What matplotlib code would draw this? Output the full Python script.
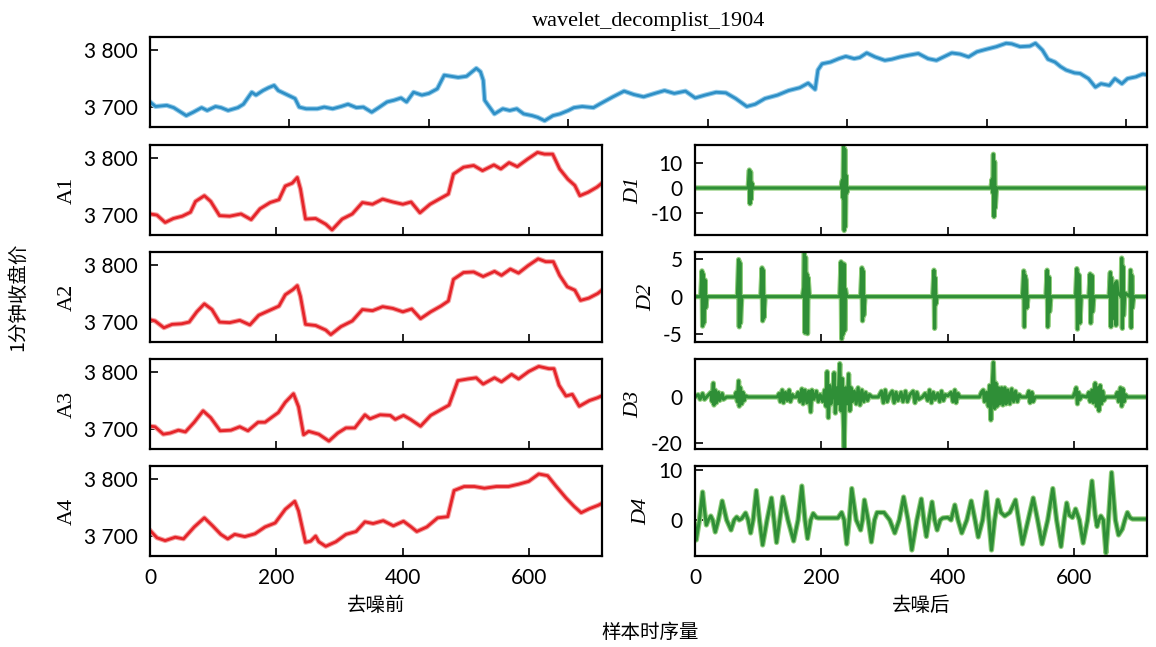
import matplotlib
matplotlib.use("Agg")
import matplotlib.pyplot as plt
from matplotlib.ticker import FuncFormatter, MultipleLocator

plt.rcParams["axes.unicode_minus"] = False

# ---- data ----
title = "wavelet_decomplist_1904"

close_t = [0, 4, 12, 17, 26, 31, 37, 41, 47, 51, 56, 63, 67, 73, 76, 81, 85, 89, 92, 98,
           104, 107, 112, 120, 125, 131, 137, 142, 148, 153, 159, 164, 170, 175, 180, 184,
           189, 195, 200, 206, 211, 216, 221, 227, 234, 237, 239, 240, 242, 247, 253, 258,
           263, 268, 274, 278, 283, 289, 294, 300, 304, 310, 318, 323, 332, 340, 347, 354,
           362, 369, 376, 384, 391, 398, 406, 413, 420, 428, 434, 441, 450, 458, 466, 472,
           477, 479, 482, 488, 494, 499, 505, 509, 514, 520, 527, 532, 538, 544, 551, 558,
           564, 570, 575, 581, 587, 593, 599, 607, 614, 618, 624, 631, 635, 640, 644, 649,
           653, 657, 663, 667, 673, 678, 682, 688, 692, 697, 701, 707, 712, 716]
close_v = [3709, 3701, 3703, 3699, 3685, 3691, 3699, 3694, 3701, 3699, 3694, 3699, 3705,
           3726, 3721, 3729, 3734, 3738, 3729, 3722, 3715, 3700, 3697, 3697, 3700, 3697,
           3701, 3705, 3699, 3700, 3691, 3699, 3709, 3712, 3716, 3709, 3726, 3721, 3724,
           3732, 3756, 3754, 3752, 3754, 3768, 3762, 3747, 3712, 3705, 3688, 3697, 3694,
           3697, 3688, 3685, 3682, 3676, 3685, 3688, 3694, 3699, 3701, 3699, 3706, 3718,
           3728, 3722, 3718, 3724, 3729, 3724, 3728, 3716, 3721, 3726, 3725, 3715, 3701,
           3705, 3715, 3721, 3729, 3734, 3742, 3731, 3765, 3776, 3779, 3785, 3789, 3785,
           3787, 3795, 3788, 3782, 3784, 3788, 3791, 3794, 3785, 3782, 3789, 3795, 3793,
           3788, 3797, 3801, 3806, 3812, 3811, 3806, 3807, 3812, 3800, 3784, 3779, 3771,
           3765, 3760, 3759, 3750, 3735, 3741, 3738, 3750, 3741, 3750, 3753, 3758, 3756]

a1_t = [0, 11, 24, 37, 51, 64, 72, 86, 96, 110, 126, 144, 160, 174, 190, 204, 214, 225,
        233, 238, 246, 262, 278, 288, 304, 320, 336, 352, 368, 384, 400, 413, 427, 443,
        459, 472, 480, 496, 512, 526, 544, 555, 568, 581, 597, 613, 624, 637, 648, 661,
        672, 680, 693, 707, 716]
a1_v = [3702, 3700, 3687, 3694, 3698, 3705, 3724, 3734, 3724, 3699, 3698, 3702, 3692,
        3711, 3722, 3727, 3751, 3756, 3766, 3746, 3693, 3694, 3684, 3674, 3693, 3702,
        3722, 3719, 3728, 3723, 3719, 3723, 3704, 3719, 3729, 3737, 3772, 3784, 3787,
        3778, 3788, 3781, 3792, 3785, 3798, 3810, 3807, 3807, 3781, 3763, 3752, 3734,
        3740, 3749, 3757]

a2_t = [0, 8, 22, 35, 50, 62, 74, 86, 98, 110, 126, 142, 158, 172, 188, 204, 214, 226,
        233, 238, 246, 262, 278, 286, 302, 320, 336, 352, 368, 384, 400, 414, 428, 444,
        460, 472, 480, 496, 512, 527, 545, 556, 570, 583, 598, 614, 626, 638, 648, 660,
        672, 681, 694, 708, 716]
a2_v = [3704, 3702, 3690, 3696, 3697, 3700, 3718, 3732, 3722, 3700, 3699, 3703, 3695,
        3712, 3720, 3728, 3748, 3757, 3764, 3745, 3696, 3694, 3686, 3678, 3692, 3702,
        3722, 3720, 3727, 3724, 3718, 3723, 3706, 3718, 3728, 3737, 3775, 3787, 3788,
        3780, 3789, 3782, 3793, 3786, 3799, 3811, 3806, 3806, 3782, 3762, 3756, 3738,
        3742, 3750, 3757]

a3_t = [0, 8, 21, 32, 45, 56, 70, 84, 96, 111, 128, 142, 155, 171, 182, 193, 203, 214,
        227, 235, 243, 251, 267, 283, 297, 310, 324, 340, 348, 364, 380, 388, 401, 412,
        428, 444, 460, 473, 487, 503, 516, 527, 545, 556, 572, 583, 599, 615, 631, 639,
        647, 658, 668, 679, 695, 708, 716]
a3_v = [3705, 3704, 3691, 3693, 3698, 3695, 3712, 3732, 3720, 3697, 3698, 3704, 3697,
        3712, 3712, 3721, 3729, 3747, 3762, 3739, 3690, 3696, 3691, 3679, 3693, 3702,
        3702, 3725, 3718, 3725, 3724, 3717, 3724, 3717, 3705, 3724, 3734, 3742, 3785,
        3788, 3790, 3779, 3790, 3783, 3796, 3788, 3801, 3810, 3806, 3806, 3777, 3758,
        3761, 3740, 3750, 3755, 3759]

a4_t = [0, 11, 24, 40, 53, 70, 86, 99, 112, 123, 134, 150, 166, 182, 198, 214, 229, 235,
        246, 254, 262, 267, 278, 294, 310, 326, 340, 353, 369, 385, 401, 412, 422, 438,
        455, 471, 481, 497, 513, 529, 548, 567, 583, 599, 615, 629, 642, 658, 671, 682,
        695, 709, 716]
a4_v = [3710, 3697, 3692, 3698, 3695, 3716, 3732, 3718, 3703, 3695, 3703, 3699, 3704,
        3716, 3723, 3747, 3761, 3744, 3689, 3691, 3700, 3690, 3682, 3690, 3703, 3708,
        3725, 3722, 3727, 3718, 3726, 3717, 3708, 3716, 3732, 3734, 3780, 3787, 3787,
        3784, 3787, 3787, 3791, 3796, 3809, 3806, 3788, 3767, 3752, 3741, 3748, 3754,
        3758]

d1_t = [0, 84, 86, 87, 88, 89, 90, 92, 231, 233, 234, 235, 236, 237, 238, 239, 240, 242,
        468, 470, 471, 472, 473, 474, 475, 477, 716]
d1_v = [0, 0, 7.2, -6.3, 6.5, -4.5, 2, 0, 0, 3, -4, 16.6, -17.0, 15.5, -15.5, 5, -2, 0,
        0, 3.5, -2.0, 13.5, -11.5, 10.5, -8, 0, 0]

d2_t = [0, 9, 11, 12, 13, 14, 16, 17, 19, 67, 69, 70, 71, 72, 74, 104, 106, 107, 108,
        109, 111, 170, 172, 173, 174, 175, 176, 177, 178, 179, 181, 229, 231, 232, 233,
        234, 236, 237, 238, 240, 262, 264, 265, 266, 267, 269, 376, 378, 379, 380, 381,
        383, 518, 520, 521, 522, 524, 525, 527, 555, 557, 558, 560, 561, 563, 602, 604,
        605, 606, 608, 609, 611, 623, 625, 626, 628, 629, 631, 655, 657, 658, 659, 660,
        662, 665, 666, 667, 669, 674, 675, 676, 677, 678, 680, 688, 689, 690, 691, 692,
        694, 716]
d2_v = [0, 0, 3.4, -3.9, 3.0, -3.5, 2.2, -1.5, 0, 0, 4.9, -4.0, 4.5, -3.5, 0, 0, 3.8,
        -3.2, 3.5, -2.8, 0, 0, 1.2, 6.0, -4.8, 5.2, -4.6, 3.0, -4.9, 2.5, 0, 0, 4.6, -5.6,
        4.4, -5.0, 4.3, -4.5, 1.0, 0, 0, 3.8, -3.2, 3.4, -2.5, 0, 0, 3.5, -4.2, 2.5, -1.0,
        0, 0, 3.4, -4.0, 2.8, 2.2, -1.5, 0, 0, 3.5, -4.0, 2.6, -2.0, 0, 0, 3.7, -4.3, 3.0,
        2.8, -3.5, 0, 0, 3.0, -3.5, 2.8, -2.0, 0, 0, 3.2, -4.0, 2.5, -3.0, 0.5, 1.8, -3.8,
        2.0, 0.5, 0, 5.1, -4.2, 4.0, -2.5, 0.5, 0, 3.5, -4.1, 2.8, -1.5, 0, 0]

d3_t = [0, 5, 8, 12, 15, 20, 25, 27, 29, 30, 32, 34, 37, 39, 43, 45, 50, 63, 65, 67, 69,
        70, 72, 74, 76, 78, 80, 84, 130, 133, 135, 138, 140, 143, 146, 149, 151, 154, 156,
        160, 163, 166, 169, 171, 174, 177, 180, 183, 185, 188, 192, 195, 198, 202, 205,
        207, 209, 211, 213, 215, 218, 220, 222, 224, 226, 229, 231, 233, 234, 236, 238,
        241, 243, 245, 247, 249, 252, 255, 258, 261, 264, 267, 270, 273, 276, 280, 290,
        295, 298, 301, 304, 308, 312, 315, 318, 321, 326, 329, 333, 336, 340, 345, 348,
        351, 354, 360, 364, 368, 371, 374, 377, 380, 384, 387, 390, 393, 396, 400, 405,
        408, 411, 413, 416, 419, 450, 453, 456, 458, 461, 464, 466, 468, 470, 472, 474,
        476, 478, 480, 482, 485, 487, 490, 492, 495, 498, 501, 504, 507, 510, 513, 516,
        525, 528, 530, 533, 535, 538, 598, 601, 603, 605, 607, 609, 612, 620, 623, 625,
        628, 630, 633, 635, 637, 639, 641, 643, 645, 647, 650, 665, 668, 670, 673, 675,
        677, 679, 681, 684, 716]
d3_v = [0, 1, -1, 1.5, -1, 0.5, 2, -2, 6, -3.5, 3, -2.5, 2, -1.5, 1.5, -1, 0, 0, 2, -2,
        7, -4, 4, -3, 2, -1.5, 0.5, 0, 0, 1.5, -2, 3, -2.5, 2, -1.5, 3, -2, 1, 0, 0, 2, -2,
        3.5, -3, 3, -2.5, 2.5, -6.5, 3, -1, 2.5, -2, 1, -2, 3, -4, 11, -9, 5, -3, 2, 10.5,
        -7, 4, -3, 14.5, -6, 8, -4, -22, 4, -3, 10, -6, 4, -2, 2.5, -3, 4, -3.5, 3, -2, 2,
        -1.5, 1, 0, 0, 2.5, -2.5, 3, -2, 1, 2.5, -2.5, 2, -1.5, 2, -2, 2.5, -2, 1, 2.5,
        -2.5, 2, -1, 0, 1.5, -1.5, 3, -2.5, 2, -1, 1.5, -2, 2.5, -1.5, 1, 0.5, 2, -2, 3,
        -2.5, 1.5, 0, 0, 2, 3, -2, 2, -4, 5, -10, 4, 15, -5, 6, -4, 4, -3, 4, -3.5, 4, -3,
        3, -3, 3.5, -2, 2.5, -2, 1, 0, 0, 2.5, -2.5, 2, -2, 0, 0, 2, 4, -3, 2, -1, 0.5, 0,
        2, -2, 3, -2.5, 6, -4, 4, -6, 5, -3, 2.5, -1.5, 0, 0, 2, -2, 4, -4, 3.5, -2, 1, 0,
        0]

d4_t = [0, 2, 7, 12, 15, 18, 21, 25, 28, 32, 37, 43, 50, 57, 62, 66, 70, 74, 80, 84, 88,
        92, 97, 102, 107, 114, 121, 125, 129, 134, 139, 147, 156, 163, 169, 174, 178, 183,
        187, 192, 195, 226, 232, 236, 240, 244, 248, 255, 262, 265, 268, 274, 279, 284,
        288, 299, 308, 316, 323, 330, 337, 343, 351, 358, 362, 366, 370, 375, 379, 383,
        388, 392, 400, 405, 411, 416, 422, 430, 437, 443, 448, 455, 461, 465, 469, 474,
        479, 484, 490, 498, 507, 512, 518, 527, 535, 542, 549, 558, 566, 572, 579, 584,
        588, 592, 597, 602, 608, 614, 621, 628, 633, 636, 639, 642, 646, 650, 654, 659,
        665, 670, 676, 680, 684, 688, 692, 716]
d4_v = [-1, -4, 0, 5.6, 2, -1, 0, 0.8, 0, -2.4, 0, 3.8, 0, -2, 0, 0.6, 0, 0.3, 1.4, 0,
        -2.6, 0, 5.9, 0, -5, 0, 4.4, 0, -4.5, 0, 4.6, 0, -4.2, 0, 6.8, 0, -3.7, 0, 1.3,
        0.5, 0.4, 0.4, 1.5, 0, -4.8, 0, 6.3, 0, -2, 0, 4, 0, -4.4, 0, 1.5, 1.5, 0, -2.6,
        0, 4.6, 0, -6, 0, 4.2, 0, -3.3, 0, 3.6, 0, -2, 0, 0.4, 0.5, 0, 3, 0, -2.6, 0, 3.8,
        0, -3.4, 0, 5.6, 0, -6, 0, 4, 1.5, 0.8, 1.5, 4, 0, -4.8, 0, 4.4, 0, -4.8, 0, 6.3,
        0, -5.3, 0, 3.4, 1, 0.5, 2.2, 0, -4.6, 0, 7.8, 1, -1.3, 0, 0.8, 0, -6.6, 0, 9.5,
        0, -3, -1.8, 0, 1.5, 0.5, 0.2, 0.2]

a_series = [(a1_t, a1_v, "A1"), (a2_t, a2_v, "A2"), (a3_t, a3_v, "A3"), (a4_t, a4_v, "A4")]
d_series = [(d1_t, d1_v, "D1", (-18.8, 17.2), [-10, 0, 10]),
            (d2_t, d2_v, "D2", (-6.0, 5.9), [-5, 0, 5]),
            (d3_t, d3_v, "D3", (-22.6, 16.5), [-20, 0]),
            (d4_t, d4_v, "D4", (-7.2, 10.8), [0, 10])]

# ---- figure ----
W, H = 1156, 647
fig = plt.figure(figsize=(W / 100, H / 100), dpi=100)
fig.patch.set_facecolor("white")

TICKFONT = "Lato"
CJK = ["Noto Sans CJK SC", "DejaVu Sans"]
XMAX = 715


def box(x0, y0, x1, y1):
    return [x0 / W, 1 - y1 / H, (x1 - x0) / W, (y1 - y0) / H]


def style(ax, xlabels=False):
    ax.set_xlim(0, XMAX)
    ax.xaxis.set_major_locator(MultipleLocator(200) if xlabels is not None else MultipleLocator(100))
    ax.tick_params(direction="in", length=6, width=1.2, top=False, right=False,
                   labelsize=15, pad=9)
    for s in ax.spines.values():
        s.set_linewidth(1.6)
    for lab in ax.get_xticklabels() + ax.get_yticklabels():
        lab.set_fontfamily(TICKFONT)
    if not xlabels:
        ax.tick_params(labelbottom=False)


thousands = FuncFormatter(lambda v, p: f"{int(round(v)):,}".replace(",", " "))

# top panel: raw close
ax0 = fig.add_axes(box(150, 37, 1147, 127))
ax0.plot(close_t, close_v, color="#93cbe9", lw=3.6, solid_joinstyle="round")
ax0.plot(close_t, close_v, color="#2e8fc6", lw=2.0, solid_joinstyle="round")
ax0.set_ylim(3665, 3823)
ax0.set_yticks([3700, 3800])
ax0.yaxis.set_major_formatter(thousands)
style(ax0, xlabels=None)
ax0.set_title(title, fontsize=16, family="Liberation Serif", pad=8)

row_tops = [145, 252, 359, 466]
for i, (t, v, name) in enumerate(a_series):
    ax = fig.add_axes(box(150, row_tops[i], 602, row_tops[i] + 90))
    ax.plot(t, v, color="#f5a0a0", lw=3.6, solid_joinstyle="round")
    ax.plot(t, v, color="#e5242a", lw=2.0, solid_joinstyle="round")
    ax.set_ylim(3665, 3823)
    ax.set_yticks([3700, 3800])
    ax.yaxis.set_major_formatter(thousands)
    style(ax, xlabels=(i == 3))
    ax.set_ylabel(name, family="Liberation Serif", fontsize=16, labelpad=5)
    if i == 3:
        ax.set_xlabel("去噪前", family=CJK, fontsize=14, labelpad=5)

for i, (t, v, name, ylim, yt) in enumerate(d_series):
    ax = fig.add_axes(box(695, row_tops[i], 1147, row_tops[i] + 90))
    ax.plot(t, v, color="#8fcd7c", lw=3.8, solid_joinstyle="round")
    ax.plot(t, v, color="#2f8f37", lw=2.2, solid_joinstyle="round")
    ax.set_ylim(*ylim)
    ax.set_yticks(yt)
    style(ax, xlabels=(i == 3))
    ax.set_ylabel(name, family="Liberation Serif", style="italic", fontsize=16, labelpad=5)
    if i == 3:
        ax.set_xlabel("去噪后", family=CJK, fontsize=14, labelpad=5)

fig.text(650 / W, 1 - 632 / H, "样本时序量", family=CJK, fontsize=14, ha="center", va="center")
fig.text(18 / W, 1 - 297 / H, "1分钟收盘价", family=CJK, fontsize=14, ha="center", va="center",
         rotation=90)

fig.savefig("out.png", dpi=100, facecolor="white")
